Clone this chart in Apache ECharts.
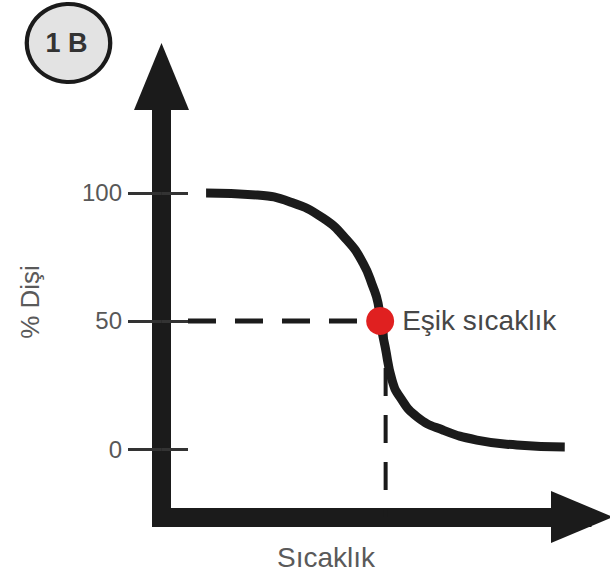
<!DOCTYPE html>
<html>
<head>
<meta charset="utf-8">
<script src="https://cdn.jsdelivr.net/npm/echarts@6/dist/echarts.min.js"></script>
<style>
  html, body { margin: 0; padding: 0; background: #ffffff; }
  #chart { width: 610px; height: 577px; }
</style>
</head>
<body>
<div id="chart"></div>
<script>
// Sex ratio (% female) against incubation temperature: a falling sigmoid.
const temperature = [10.6, 22.7, 30.6, 38.4, 44.1, 47.9, 50.3, 51.5, 52.0, 53.2, 54.8, 56.7, 60.8, 66.9, 75.0, 84.5, 95.9];
const femalePct   = [100, 99.2, 96.5, 90.2, 81.6, 72.7, 63.3, 57.0, 50.0, 39.8, 27.0, 20.3, 12.5, 7.4, 3.5, 1.6, 0.8];

// Pivotal (threshold) temperature where the ratio is 50 %
const thresholdTemp = 52.0;
const thresholdPct = 50;
const thresholdLabel = 'Eşik sıcaklık';

const yTicks = [0, 50, 100];
const xTitle = 'Sıcaklık';
const yTitle = '% Dişi';
const badgeText = '1 B';

// Axis ranges (plot coordinates)
const xMin = 0, xMax = 100;
const yMin = -26.56, yMax = 145.5;
const guideStartX = 6.3;
const guideDropX = 53.3;

const FONT = '"Liberation Sans", Arial, Helvetica, sans-serif';
const INK = '#1b1b1b';

const chart = echarts.init(document.getElementById('chart'), null, { renderer: 'svg' });

const curve = temperature.map((t, i) => [t, femalePct[i]]);

chart.setOption({
  animation: false,
  backgroundColor: '#ffffff',
  grid: { left: 161.5, right: 28, top: 76.5, bottom: 60, containLabel: false, outerBoundsMode: 'none' },
  xAxis: {
    type: 'value', min: xMin, max: xMax,
    axisLine: {
      show: true, onZero: false,
      symbol: ['none', 'triangle'], symbolSize: [52, 62],
      lineStyle: { color: INK, width: 19, cap: 'square' }
    },
    axisTick: { show: false },
    axisLabel: { show: false },
    splitLine: { show: false }
  },
  yAxis: [
    {
      type: 'value', min: yMin, max: yMax, position: 'left',
      axisLine: {
        show: true, onZero: false,
        symbol: ['none', 'triangle'], symbolSize: [55, 67],
        lineStyle: { color: INK, width: 19, cap: 'square' }
      },
      axisTick: { show: true, length: 33.5, customValues: yTicks, lineStyle: { color: '#333', width: 3 } },
      axisLabel: {
        show: true, customValues: yTicks, margin: 39.5,
        color: '#585858', fontSize: 24, fontFamily: FONT
      },
      splitLine: { show: false }
    },
    {
      // inner half of the tick marks
      type: 'value', min: yMin, max: yMax, position: 'left',
      axisLine: { show: false, onZero: false },
      axisTick: { show: true, inside: true, length: 26.5, customValues: yTicks, lineStyle: { color: '#333', width: 3 } },
      axisLabel: { show: false },
      splitLine: { show: false }
    }
  ],
  series: [
    {
      name: 'guide-h', type: 'line', symbol: 'none', silent: true, z: 2,
      data: [[guideStartX, thresholdPct], [thresholdTemp, thresholdPct]],
      lineStyle: { color: INK, width: 5, type: [28, 19] }
    },
    {
      name: 'guide-v', type: 'line', symbol: 'none', silent: true, z: 2,
      data: [[guideDropX, thresholdPct], [guideDropX, yMin]],
      lineStyle: { color: INK, width: 4, type: [28, 19] }
    },
    {
      name: 'curve', type: 'line', symbol: 'none', z: 3,
      smooth: 0.5,
      data: curve,
      lineStyle: { color: INK, width: 9, cap: 'butt', join: 'round' }
    },
    {
      name: 'threshold', type: 'scatter', z: 5,
      symbol: 'circle', symbolSize: 28,
      itemStyle: { color: '#e02020', opacity: 1 },
      data: [[thresholdTemp, thresholdPct]],
      label: {
        show: true, position: 'right', distance: 8,
        formatter: thresholdLabel,
        color: '#474747', fontSize: 28, fontFamily: FONT
      }
    }
  ],
  graphic: [
    {
      type: 'text', x: 30, y: 302, rotation: Math.PI / 2,
      style: { text: yTitle, fill: '#5a5a5a', font: '26px ' + FONT, textAlign: 'center', textVerticalAlign: 'middle' }
    },
    {
      type: 'text', x: 326, y: 557,
      style: { text: xTitle, fill: '#5a5a5a', font: '28px ' + FONT, textAlign: 'center', textVerticalAlign: 'middle' }
    },
    {
      type: 'group', x: 68.5, y: 43,
      children: [
        {
          type: 'circle', scaleX: 1.07, shape: { cx: 0, cy: 0, r: 39 },
          style: { fill: '#e3e3e3', stroke: INK, lineWidth: 4 }
        },
        {
          type: 'text', x: -2, y: 0,
          style: { text: badgeText, fill: '#333333', font: 'bold 27px ' + FONT, textAlign: 'center', textVerticalAlign: 'middle' }
        }
      ]
    }
  ]
});
</script>
</body>
</html>
